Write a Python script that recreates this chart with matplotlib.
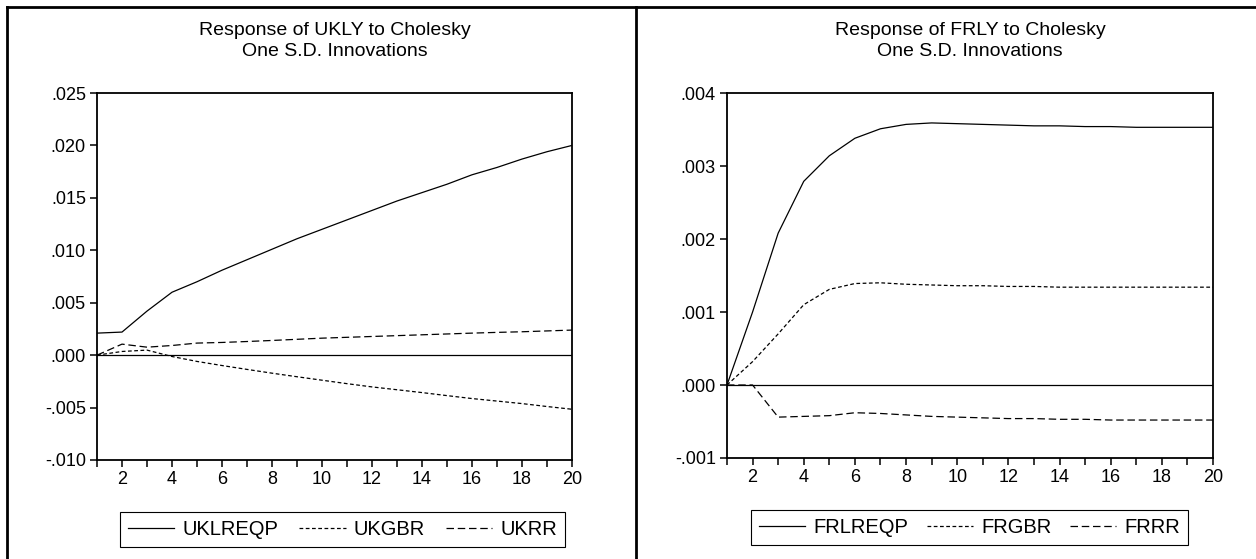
"""EViews-style impulse responses: UK and FR, Cholesky one S.D. innovations."""

import matplotlib
matplotlib.use("Agg")
import matplotlib.pyplot as plt
from matplotlib.lines import Line2D
from matplotlib.ticker import FuncFormatter, MultipleLocator
import numpy as np

plt.rcParams["font.family"] = ["Liberation Sans", "DejaVu Sans"]

periods = np.arange(1, 21)

# --- UK responses ---
uk_lreqp = [0.0021, 0.0022, 0.0042, 0.0060, 0.0070, 0.0081, 0.0091, 0.0101, 0.0111, 0.0120,
            0.0129, 0.0138, 0.0147, 0.0155, 0.0163, 0.0172, 0.0179, 0.0187, 0.0194, 0.0200]
uk_gbr = [0.0, 0.00035, 0.00048, -0.00013, -0.0006, -0.00099, -0.00136, -0.00172, -0.00206, -0.00239,
          -0.00272, -0.00303, -0.0033, -0.00357, -0.00386, -0.00414, -0.00438, -0.00462, -0.0049, -0.00516]
uk_rr = [0.0, 0.00105, 0.00076, 0.00092, 0.00115, 0.00121, 0.0013, 0.0014, 0.00151, 0.00162,
         0.0017, 0.00178, 0.00186, 0.00194, 0.00202, 0.0021, 0.00217, 0.00223, 0.00231, 0.00239]

# --- FR responses ---
fr_lreqp = [0.0, 0.0010, 0.00208, 0.00279, 0.00314, 0.00338, 0.00351, 0.00357, 0.00359, 0.00358,
            0.00357, 0.00356, 0.00355, 0.00355, 0.00354, 0.00354, 0.00353, 0.00353, 0.00353, 0.00353]
fr_gbr = [0.0, 0.00032, 0.0007, 0.0011, 0.00131, 0.00139, 0.0014, 0.00138, 0.00137, 0.00136,
          0.00136, 0.00135, 0.00135, 0.00134, 0.00134, 0.00134, 0.00134, 0.00134, 0.00134, 0.00134]
fr_rr = [0.0, 0.0, -0.00044, -0.00043, -0.00042, -0.00038, -0.00039, -0.00041, -0.00043, -0.00044,
         -0.00045, -0.00046, -0.00046, -0.00047, -0.00047, -0.00048, -0.00048, -0.00048, -0.00048, -0.00048]

panels = [
    ("UKLY", ["UKLREQP", "UKGBR", "UKRR"], [uk_lreqp, uk_gbr, uk_rr], (-0.010, 0.025), 0.005),
    ("FRLY", ["FRLREQP", "FRGBR", "FRRR"], [fr_lreqp, fr_gbr, fr_rr], (-0.001, 0.004), 0.001),
]
line_styles = ["-", (0, (3, 2)), (0, (6, 3))]

W, H = 1256, 559


def rect(l, t, r, b):
    return [l / W, 1 - b / H, (r - l) / W, (b - t) / H]


def dec_fmt(v, pos):
    s = f"{v:.3f}"
    return s.replace("-0.", "-.").replace("0.", ".")


fig = plt.figure(figsize=(W / 100, H / 100), dpi=100)
ax_rects = [rect(97, 93, 572, 460), rect(727, 93, 1213, 458)]
leg_boxes = [(120, 513, 565, 547), (751, 511, 1188, 545)]

for (name, labels, series, ylim, step), r, lb in zip(panels, ax_rects, leg_boxes):
    ax = fig.add_axes(r)
    handles = []
    for vals, ls in zip(series, line_styles):
        h, = ax.plot(periods, vals, color="black", lw=0.9, ls=ls)
        handles.append(h)
    ax.axhline(0, color="black", lw=0.9)
    ax.set_xlim(1, 20)
    ax.set_ylim(*ylim)
    ax.xaxis.set_major_locator(MultipleLocator(2))
    ax.xaxis.set_minor_locator(MultipleLocator(1))
    ax.yaxis.set_major_locator(MultipleLocator(step))
    ax.yaxis.set_major_formatter(FuncFormatter(dec_fmt))
    ax.tick_params(which="both", direction="out", length=5, width=1.1, labelsize=13, pad=3)
    for sp in ax.spines.values():
        sp.set_linewidth(1.3)
    ax.set_title(f"Response of {name} to Cholesky\nOne S.D. Innovations",
                 fontsize=14, pad=27, linespacing=1.25)

    l, t, rr, b = lb
    leg = fig.legend(handles, labels, loc="lower left",
                     bbox_to_anchor=(l / W, 1 - b / H, (rr - l) / W, (b - t) / H),
                     mode="expand", ncol=3, fontsize=14.5, frameon=True, fancybox=False,
                     edgecolor="black", framealpha=1, borderaxespad=0, borderpad=0.4,
                     handlelength=2.3, handletextpad=0.4)
    leg.get_frame().set_linewidth(0.8)

# outer panel frame lines
fig.add_artist(Line2D([7 / W, 1], [1 - 7 / H, 1 - 7 / H], color="black", lw=2))
fig.add_artist(Line2D([7 / W, 7 / W], [0, 1 - 7 / H], color="black", lw=2))
fig.add_artist(Line2D([636 / W, 636 / W], [0, 1 - 7 / H], color="black", lw=2))

fig.savefig("out.png", dpi=100)
